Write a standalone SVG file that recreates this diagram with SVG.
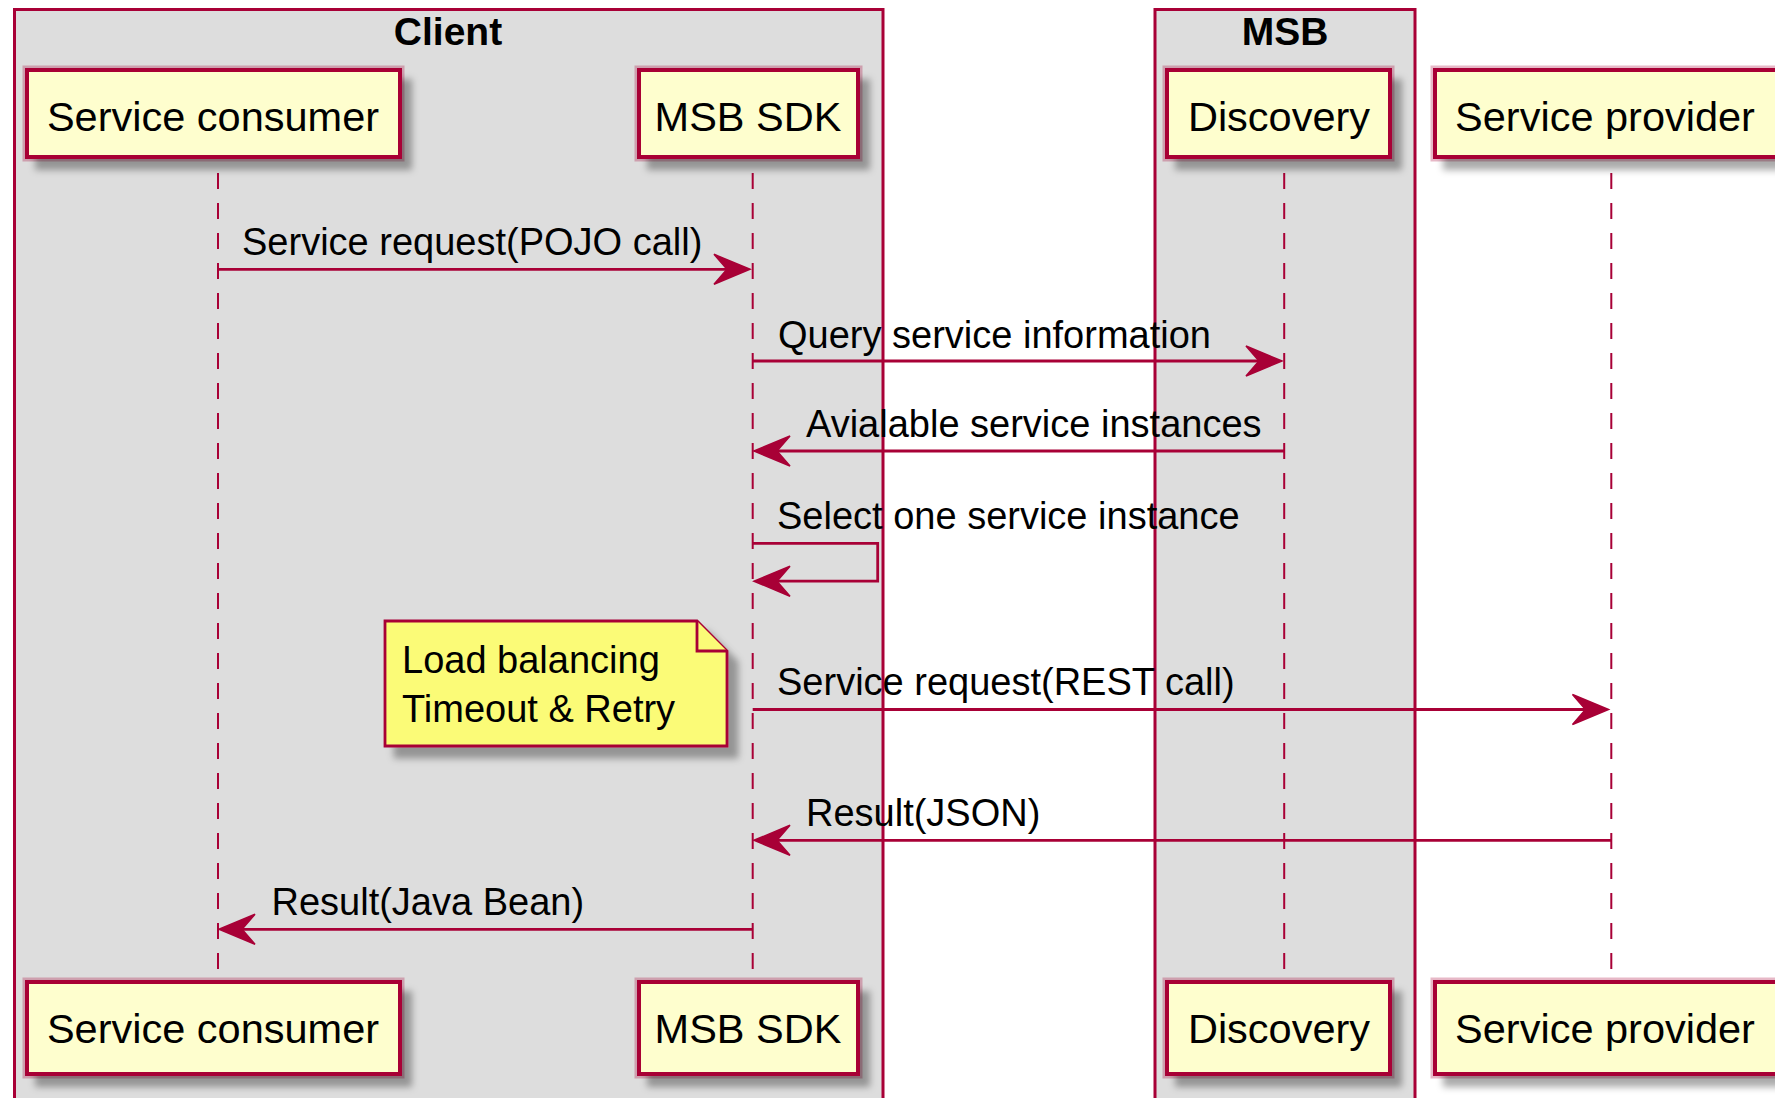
<svg xmlns="http://www.w3.org/2000/svg" xmlns:xlink="http://www.w3.org/1999/xlink" width="1775" height="1098" viewBox="0 0 1775 1098">
<style>
.grp{fill:#DDDDDD;stroke:#A80036;stroke-width:3}
.gtitle{font-family:"Liberation Sans",Arial,sans-serif;font-weight:bold;font-size:39px;fill:#000;text-anchor:middle}
.halo{fill:none;stroke:#A80036;stroke-opacity:0.28;stroke-width:9}
.pbox{fill:#FEFECE;stroke:#A80036;stroke-width:4;filter:url(#sh)}
.ptext{font-family:"Liberation Sans",Arial,sans-serif;font-size:41.5px;fill:#000;text-anchor:middle}
.life{stroke:#A80036;stroke-width:2;stroke-dasharray:16,14;fill:none}
.msg{stroke:#A80036;stroke-width:2.8;fill:none}
.ah{fill:#A80036;stroke:#A80036;stroke-width:1.5;stroke-linejoin:miter}
.mtext{font-family:"Liberation Sans",Arial,sans-serif;font-size:38px;fill:#000}
.note{fill:#FBFB77;stroke:#A80036;stroke-width:2.8;stroke-linejoin:miter}
</style>
<defs>
<filter id="sh" x="-10%" y="-15%" width="130%" height="150%">
<feDropShadow dx="10" dy="11" stdDeviation="3.5" flood-color="#000" flood-opacity="0.33"/>
</filter>
<path id="arR" d="M0,0 L-36,-15 L-23,0 L-36,15 Z"/>
<path id="arL" d="M0,0 L36,-15 L23,0 L36,15 Z"/>
</defs>
<rect width="1775" height="1098" fill="#FFFFFF"/>

<g id="box-client">
<rect class="grp" x="14.5" y="9.5" width="868.5" height="1110"/>
<text class="gtitle" x="448" y="45">Client</text>
</g>
<g id="box-msb">
<rect class="grp" x="1155" y="9.5" width="260" height="1110"/>
<text class="gtitle" x="1285" y="45">MSB</text>
</g>

<g id="lifelines">
<line class="life" x1="218" y1="173" x2="218" y2="980"/>
<line class="life" x1="752.7" y1="173" x2="752.7" y2="980"/>
<line class="life" x1="1284.2" y1="173" x2="1284.2" y2="980"/>
<line class="life" x1="1611.3" y1="173" x2="1611.3" y2="980"/>
</g>

<g id="consumer-top">
<rect class="halo" x="27" y="70" width="373" height="87"/>
<rect class="pbox" x="27" y="70" width="373" height="87"/>
<text class="ptext" x="213" y="131">Service consumer</text>
</g>
<g id="sdk-top">
<rect class="halo" x="639" y="70" width="219" height="87"/>
<rect class="pbox" x="639" y="70" width="219" height="87"/>
<text class="ptext" x="748" y="131">MSB SDK</text>
</g>
<g id="discovery-top">
<rect class="halo" x="1167" y="70" width="223" height="87"/>
<rect class="pbox" x="1167" y="70" width="223" height="87"/>
<text class="ptext" x="1279" y="131">Discovery</text>
</g>
<g id="provider-top">
<rect class="halo" x="1435" y="70" width="348" height="87"/>
<rect class="pbox" x="1435" y="70" width="348" height="87"/>
<text class="ptext" x="1605" y="131">Service provider</text>
</g>

<g id="consumer-bottom">
<rect class="halo" x="27" y="982" width="373" height="92"/>
<rect class="pbox" x="27" y="982" width="373" height="92"/>
<text class="ptext" x="213" y="1043">Service consumer</text>
</g>
<g id="sdk-bottom">
<rect class="halo" x="639" y="982" width="219" height="92"/>
<rect class="pbox" x="639" y="982" width="219" height="92"/>
<text class="ptext" x="748" y="1043">MSB SDK</text>
</g>
<g id="discovery-bottom">
<rect class="halo" x="1167" y="982" width="223" height="92"/>
<rect class="pbox" x="1167" y="982" width="223" height="92"/>
<text class="ptext" x="1279" y="1043">Discovery</text>
</g>
<g id="provider-bottom">
<rect class="halo" x="1435" y="982" width="348" height="92"/>
<rect class="pbox" x="1435" y="982" width="348" height="92"/>
<text class="ptext" x="1605" y="1043">Service provider</text>
</g>

<g id="note-lb">
<path class="note" d="M385,621 L697,621 L727,651 L727,746 L385,746 Z" filter="url(#sh)"/>
<path class="note" d="M697,621 L697,651 L727,651" fill="none"/>
<text class="mtext" x="402" y="673">Load balancing</text>
<text class="mtext" x="402" y="722">Timeout &amp; Retry</text>
</g>

<g id="connectors">
<line class="msg" x1="218" y1="269.3" x2="745" y2="269.3"/>
<use href="#arR" class="ah" x="750" y="269.3"/>
<text class="mtext" x="242" y="255">Service request(POJO call)</text>

<line class="msg" x1="752.7" y1="361" x2="1277" y2="361"/>
<use href="#arR" class="ah" x="1282" y="361"/>
<text class="mtext" x="778" y="348">Query service information</text>

<line class="msg" x1="1284.2" y1="451" x2="760" y2="451"/>
<use href="#arL" class="ah" x="754" y="451"/>
<text class="mtext" x="806" y="437">Avialable service instances</text>

<path class="msg" d="M752.7,543.3 L877.7,543.3 L877.7,581.2 L760,581.2"/>
<use href="#arL" class="ah" x="754" y="581.2"/>
<text class="mtext" x="777" y="529">Select one service instance</text>

<line class="msg" x1="752.7" y1="709.5" x2="1603" y2="709.5"/>
<use href="#arR" class="ah" x="1608.5" y="709.5"/>
<text class="mtext" x="777" y="695">Service request(REST call)</text>

<line class="msg" x1="1611.3" y1="840.3" x2="760" y2="840.3"/>
<use href="#arL" class="ah" x="754" y="840.3"/>
<text class="mtext" x="806" y="826">Result(JSON)</text>

<line class="msg" x1="752.7" y1="929.3" x2="225" y2="929.3"/>
<use href="#arL" class="ah" x="219" y="929.3"/>
<text class="mtext" x="271.5" y="915">Result(Java Bean)</text>
</g>
</svg>
